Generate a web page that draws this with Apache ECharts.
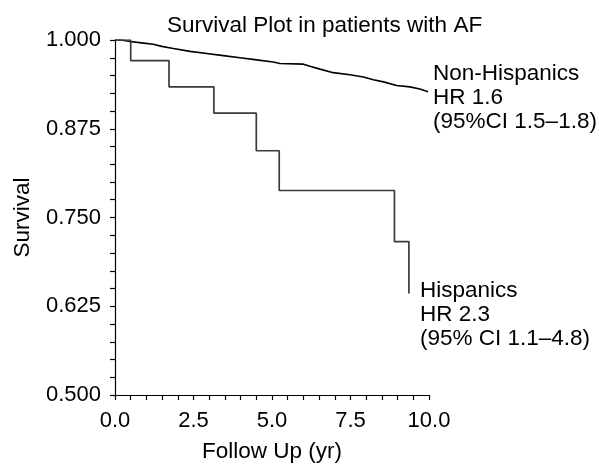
<!DOCTYPE html>
<html>
<head>
<meta charset="utf-8">
<script src="https://cdn.jsdelivr.net/npm/echarts@6/dist/echarts.min.js"></script>
<style>html,body{margin:0;padding:0;background:#fff}#c{width:599px;height:468px}</style>
</head>
<body>
<div id="c"></div>
<script>
// Data
var hispTime = [0, 0.5, 1.72, 3.15, 4.5, 5.23, 8.9, 9.36];
var hispSurv = [1.0, 0.971, 0.934, 0.897, 0.844, 0.788, 0.716, 0.643];
var nonHispTime = [0, 0.2, 0.48, 0.85, 1.22, 1.49, 1.86, 2.39, 2.92, 3.45, 3.98, 4.51, 5.04, 5.25, 6.0, 6.21, 6.53, 6.95, 7.48, 7.91, 8.23, 8.55, 8.97, 9.39, 9.71, 9.97];
var nonHispSurv = [1.0, 1.0, 0.998, 0.996, 0.994, 0.991, 0.988, 0.984, 0.981, 0.978, 0.975, 0.972, 0.969, 0.967, 0.966, 0.963, 0.959, 0.954, 0.951, 0.948, 0.944, 0.941, 0.936, 0.934, 0.931, 0.927];
var xTicks = [0, 2.5, 5, 7.5, 10];
var yTicks = [0.5, 0.625, 0.75, 0.875, 1.0];
var titleText = 'Survival Plot in patients with AF';
var nonHispLabel = 'Non-Hispanics\nHR 1.6\n(95%CI 1.5\u20131.8)';
var hispLabel = 'Hispanics\nHR 2.3\n(95% CI 1.1\u20134.8)';

function zip(a, b) { return a.map(function (v, i) { return [v, b[i]]; }); }

var font = 'Liberation Sans, Arial, Helvetica, sans-serif';
var chart = echarts.init(document.getElementById('c'), null, { renderer: 'canvas' });
var lastNH = nonHispTime.length - 1, lastH = hispTime.length - 1;
chart.setOption({
  animation: false,
  backgroundColor: '#fff',
  title: {
    text: titleText, left: 162, top: 9,
    textStyle: { fontFamily: font, fontSize: 22.5, fontWeight: 'normal', color: '#000' }
  },
  grid: { left: 115, right: 170, top: 40, bottom: 68, containLabel: false },
  xAxis: {
    type: 'value', min: xTicks[0], max: xTicks[xTicks.length - 1], interval: 2.5,
    name: 'Follow Up (yr)', nameLocation: 'middle', nameGap: 45,
    nameTextStyle: { fontFamily: font, fontSize: 22.5, color: '#000' },
    axisLine: { show: true, onZero: false, lineStyle: { color: '#000', width: 1.2 } },
    axisTick: { show: true, length: 5, lineStyle: { color: '#000', width: 1.2 } },
    minorTick: { show: true, splitNumber: 5, length: 5, lineStyle: { color: '#000', width: 1.2 } },
    splitLine: { show: false },
    axisLabel: { margin: 15, fontFamily: font, fontSize: 22, color: '#000',
      formatter: function (v) { return v.toFixed(1); } }
  },
  yAxis: {
    type: 'value', min: yTicks[0], max: yTicks[yTicks.length - 1], interval: 0.125,
    name: 'Survival', nameLocation: 'middle', nameGap: 81, nameRotate: 90,
    nameTextStyle: { fontFamily: font, fontSize: 22.5, color: '#000' },
    axisLine: { show: true, onZero: false, lineStyle: { color: '#000', width: 1.2 } },
    axisTick: { show: true, length: 5, lineStyle: { color: '#000', width: 1.2 } },
    minorTick: { show: true, splitNumber: 5, length: 5, lineStyle: { color: '#000', width: 1.2 } },
    splitLine: { show: false },
    axisLabel: { margin: 14, fontFamily: font, fontSize: 22, color: '#000',
      formatter: function (v) { return v.toFixed(3); } }
  },
  series: [
    {
      name: 'Non-Hispanics', type: 'line', data: zip(nonHispTime, nonHispSurv),
      showSymbol: false, symbol: 'none', lineStyle: { color: '#000', width: 1.6 },
      markPoint: {
        symbol: 'circle', symbolSize: 0,
        data: [{ coord: [nonHispTime[lastNH], nonHispSurv[lastNH]] }],
        label: { show: true, formatter: nonHispLabel, position: 'right', distance: 5,
          offset: [0, 6], align: 'left', verticalAlign: 'middle',
          fontFamily: font, fontSize: 22.5, lineHeight: 24, color: '#000' }
      }
    },
    {
      name: 'Hispanics', type: 'line', step: 'end', data: zip(hispTime, hispSurv),
      showSymbol: false, symbol: 'none', lineStyle: { color: '#3a3a3a', width: 1.7 },
      markPoint: {
        symbol: 'circle', symbolSize: 0,
        data: [{ coord: [hispTime[lastH], hispSurv[lastH]] }],
        label: { show: true, formatter: hispLabel, position: 'right', distance: 11,
          offset: [0, 21], align: 'left', verticalAlign: 'middle',
          fontFamily: font, fontSize: 22.5, lineHeight: 24, color: '#000' }
      }
    }
  ]
});
</script>
</body>
</html>
